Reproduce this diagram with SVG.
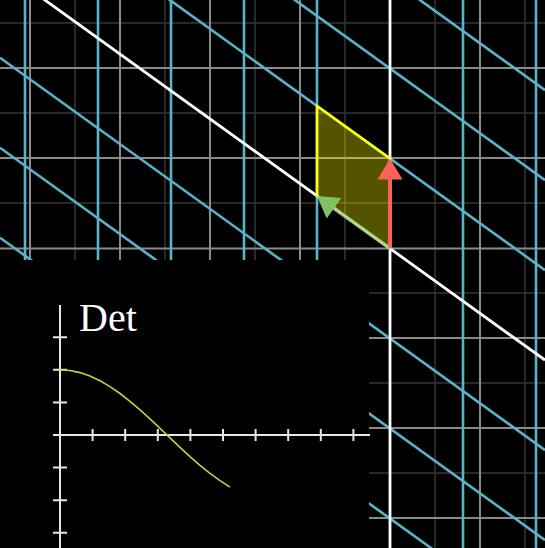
<svg xmlns="http://www.w3.org/2000/svg" width="545" height="548" viewBox="0 0 545 548">
<style>
.gb{stroke:#8a8a8a;stroke-width:2;fill:none}
.gf{stroke:#363636;stroke-width:1.5;fill:none}
.cy{stroke:#5ab3c7;stroke-width:2.6;fill:none}
.wh{stroke:#ffffff;stroke-width:2.8;fill:none}
.ax{stroke:#e6e6e6;stroke-width:2;fill:none}
.det{font-family:"Liberation Serif","DejaVu Serif",serif;font-size:40px;fill:#ffffff}
</style>
<rect x="0" y="0" width="545" height="548" fill="#000"/>
<g id="background-grid">
<path class="gf" d="M75 0V548M165 0V548M255 0V548M345 0V548M435 0V548M525 0V548M0 23H545M0 113H545M0 203H545M0 293H545M0 383H545M0 473H545"/>
<path class="gb" d="M30 0V548M120 0V548M210 0V548M300 0V548M480 0V548M0 68H545M0 158H545M0 248.5H545M0 338H545M0 428H545M0 518H545"/>
</g>
<g id="transformed-grid">
<path class="cy" d="M25 0V548M98 0V548M171 0V548M244 0V548M317 0V548M463 0V548M536 0V548"/>
<path class="cy" d="M0 -302.3L545 90.1M0 -212.3L545 180.1M0 -122.3L545 270.1M0 57.7L545 450.1M0 147.7L545 540.1M0 237.7L545 630.1"/>
<path class="wh" d="M390 0V548M0 -32.3L545 360.1"/>
</g>
<g id="parallelogram">
<polygon points="390,248.5 390,158.5 317,106 317,196" fill="#ffff00" fill-opacity="0.33"/>
<path d="M317 196V106L390 158.5" stroke="#ffff00" stroke-width="2.6" fill="none"/>
</g>
<g id="connectors">
<g id="vector-j">
<line x1="390" y1="248.5" x2="390" y2="178" stroke="#fc6255" stroke-width="4"/>
<polygon points="390,158.5 377.5,179.5 402.5,179.5" fill="#fc6255"/>
</g>
<g id="vector-i">
<line x1="390" y1="248.5" x2="334" y2="208.3" stroke="#83c167" stroke-width="4" stroke-opacity="0.6"/>
<polygon points="317,196 341.3,198.1 326.7,218.4" fill="#83c167"/>
</g>
</g>
<g id="det-graph">
<rect x="0" y="260" width="369" height="288" fill="#000"/>
<path class="ax" d="M60 305V548M53 435H370"/>
<path class="ax" d="M53 337.2H67M53 369.8H67M53 402.4H67M53 467.6H67M53 500.2H67M53 532.8H67M92.6 429V441M125.2 429V441M157.8 429V441M190.4 429V441M223 429V441M255.6 429V441M288.2 429V441M320.8 429V441M353.4 429V441"/>
<path d="M60 369.8L70 370.5L80 372.6L90 376L100 380.7L110 386.6L120 393.5L130 401.3L140 409.8L150 418.9L160 428.3L170 437.9L180 447.4L190 456.6L200 465.4L210 473.4L220 480.7L230 487.1" stroke="#cccc44" stroke-width="1.6" fill="none" stroke-linejoin="round"/>
<text class="det" x="79" y="331">Det</text>
</g>
</svg>
